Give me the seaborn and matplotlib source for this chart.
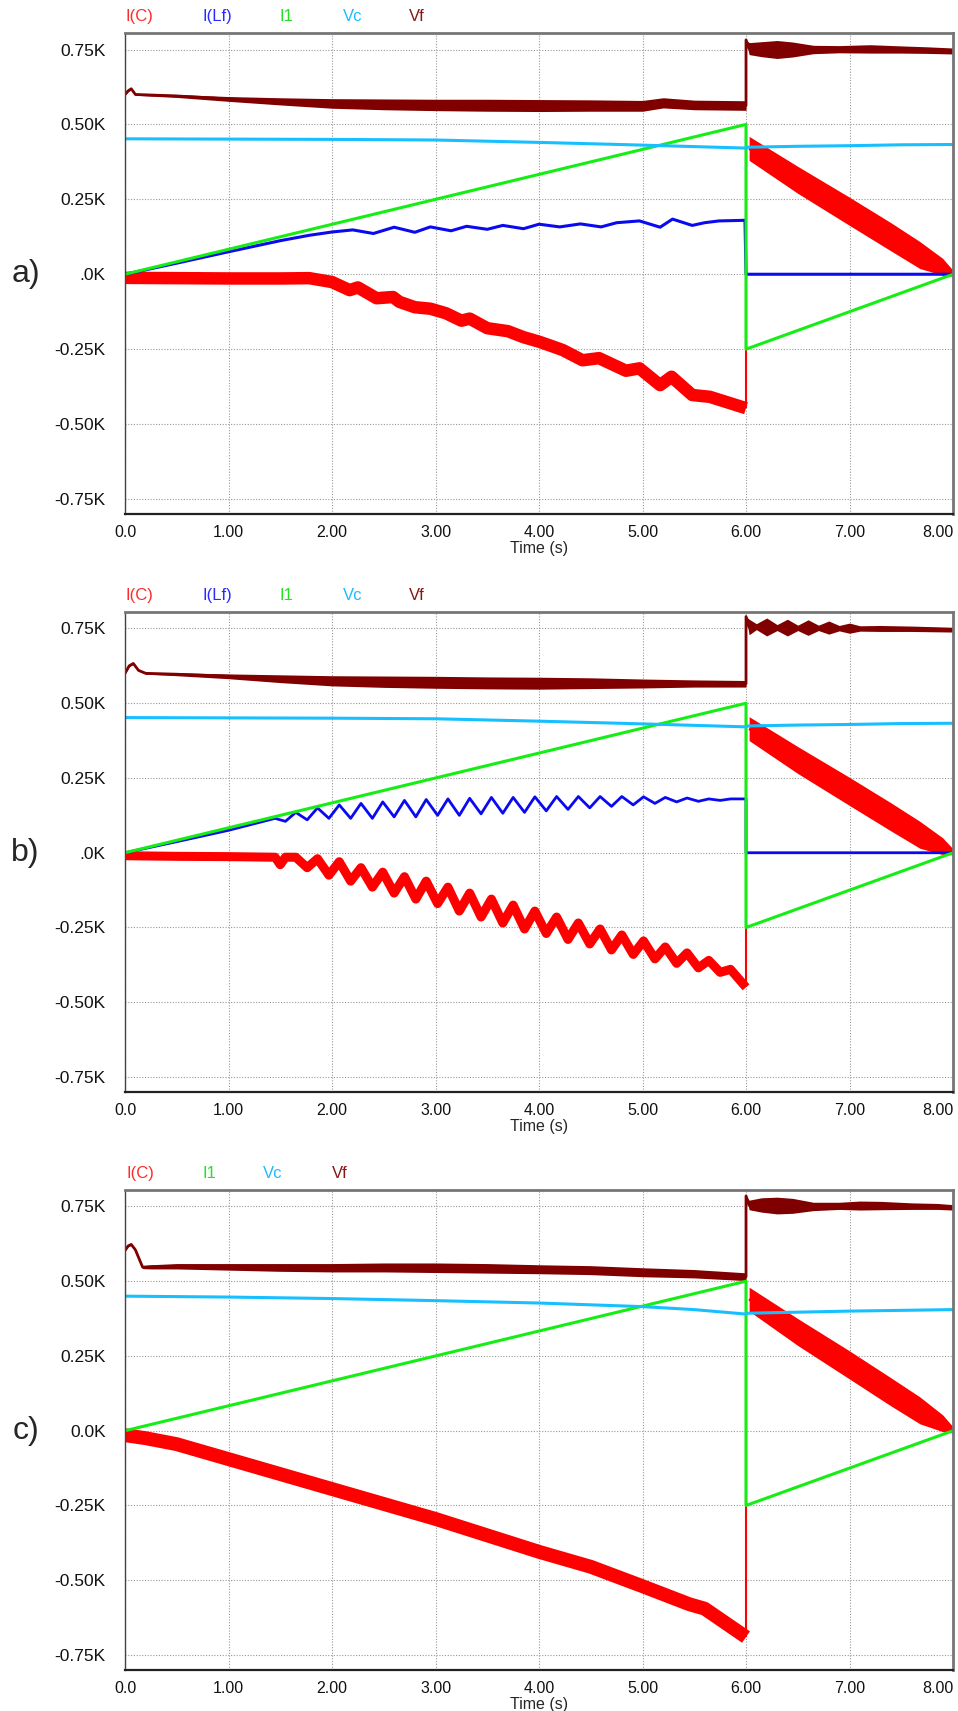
import numpy as np
import matplotlib
matplotlib.use("Agg")
import matplotlib.pyplot as plt
import matplotlib.transforms as mtransforms
import seaborn as sns

# ---- data (values in K) ----
# I1 source current, same in all three runs
i1_t = [0.0, 6.0, 6.0, 8.0]
i1_v = [0.0, 0.5, -0.25, 0.0]

# a) I(C) before the switch
a_ic_t = [0.0, 0.5, 1.0, 1.5, 1.78, 2.0, 2.17, 2.25, 2.43, 2.59, 2.65, 2.8, 2.95, 3.1, 3.25, 3.33,
          3.5, 3.7, 3.85, 4.0, 4.1, 4.23, 4.42, 4.58, 4.84, 4.97, 5.17, 5.28, 5.48, 5.65, 6.0]
a_ic_v = [-0.012, -0.013, -0.014, -0.014, -0.013, -0.026, -0.053, -0.044, -0.08, -0.076, -0.092,
          -0.11, -0.115, -0.13, -0.155, -0.148, -0.18, -0.19, -0.21, -0.225, -0.237, -0.253,
          -0.287, -0.28, -0.322, -0.314, -0.37, -0.342, -0.403, -0.409, -0.447]
# a) I(Lf)
a_lf_t = [0.0, 0.5, 1.0, 1.5, 1.78, 2.0, 2.2, 2.4, 2.6, 2.8, 2.95, 3.15, 3.3, 3.5, 3.65, 3.85, 4.0,
          4.2, 4.4, 4.6, 4.75, 4.97, 5.17, 5.29, 5.48, 5.6, 5.74, 5.99, 6.0, 8.0]
a_lf_v = [0.0, 0.037, 0.075, 0.112, 0.13, 0.141, 0.148, 0.136, 0.157, 0.14, 0.158, 0.145, 0.16,
          0.15, 0.163, 0.152, 0.167, 0.158, 0.168, 0.158, 0.172, 0.178, 0.157, 0.184, 0.163,
          0.172, 0.178, 0.18, 0.0, 0.0]
# a) Vc
a_vc_t = [0.0, 1.0, 2.0, 3.0, 4.0, 4.78, 5.3, 6.0, 6.02, 6.5, 7.0, 7.5, 8.0]
a_vc_v = [0.452, 0.451, 0.45, 0.448, 0.44, 0.433, 0.428, 0.421, 0.424, 0.427, 0.429, 0.432, 0.433]
# a) Vf centre and half band width
a_vf_t = [0.0, 0.03, 0.06, 0.1, 0.5, 1.0, 1.5, 2.0, 2.5, 3.0, 3.5, 4.0, 4.5, 5.0, 5.2, 5.5, 6.0,
          6.0, 6.03, 6.15, 6.3, 6.45, 6.65, 6.9, 7.2, 7.5, 7.75, 8.0]
a_vf_v = [0.600, 0.612, 0.619, 0.600, 0.595, 0.585, 0.577, 0.570, 0.567, 0.565, 0.564, 0.563,
          0.563, 0.562, 0.572, 0.565, 0.563, 0.782, 0.753, 0.751, 0.750, 0.750, 0.750, 0.751,
          0.752, 0.750, 0.748, 0.745]
a_vf_w = [0.003, 0.003, 0.003, 0.003, 0.005, 0.008, 0.012, 0.016, 0.018, 0.019, 0.02, 0.02,
          0.019, 0.018, 0.017, 0.016, 0.016, 0.0, 0.02, 0.025, 0.03, 0.025, 0.014, 0.012,
          0.014, 0.012, 0.011, 0.01]
# a) I(C) after the switch (band)
a_ica_t = [6.03, 6.5, 7.0, 7.4, 7.68, 7.9, 8.0]
a_ica_v = [0.42, 0.315, 0.21, 0.125, 0.064, 0.025, 0.003]
a_ica_w = [0.04, 0.045, 0.047, 0.047, 0.045, 0.028, 0.01]

# b) I(C)
b_ic_t = [0.0, 0.5, 1.0, 1.45, 1.5, 1.55, 1.65, 1.76, 1.86, 1.97, 2.07, 2.18, 2.28, 2.39, 2.49,
          2.6, 2.7, 2.81, 2.91, 3.02, 3.12, 3.23, 3.33, 3.44, 3.54, 3.65, 3.75, 3.86, 3.96, 4.07,
          4.17, 4.28, 4.38, 4.49, 4.59, 4.7, 4.8, 4.91, 5.01, 5.12, 5.22, 5.33, 5.43, 5.54, 5.64,
          5.75, 5.85, 5.95, 6.0]
b_ic_v = [-0.01, -0.012, -0.013, -0.015, -0.04, -0.015, -0.015, -0.05, -0.02, -0.075, -0.03,
          -0.095, -0.05, -0.115, -0.065, -0.135, -0.08, -0.155, -0.095, -0.17, -0.115, -0.195,
          -0.135, -0.215, -0.155, -0.235, -0.175, -0.255, -0.195, -0.27, -0.215, -0.29, -0.235,
          -0.305, -0.255, -0.325, -0.275, -0.34, -0.295, -0.355, -0.315, -0.37, -0.335, -0.385,
          -0.36, -0.4, -0.39, -0.43, -0.45]
# b) I(Lf)
b_lf_t = [0.0, 0.5, 1.0, 1.45, 1.55, 1.65, 1.76, 1.86, 1.97, 2.07, 2.18, 2.28, 2.39, 2.49, 2.6,
          2.7, 2.81, 2.91, 3.02, 3.12, 3.23, 3.33, 3.44, 3.54, 3.65, 3.75, 3.86, 3.96, 4.07, 4.17,
          4.28, 4.38, 4.49, 4.59, 4.7, 4.8, 4.91, 5.01, 5.12, 5.22, 5.33, 5.43, 5.54, 5.64, 5.75,
          5.85, 6.0, 6.0, 8.0]
b_lf_v = [0.0, 0.037, 0.075, 0.115, 0.105, 0.135, 0.11, 0.15, 0.115, 0.16, 0.115, 0.165, 0.115,
          0.17, 0.12, 0.175, 0.12, 0.178, 0.125, 0.18, 0.125, 0.182, 0.13, 0.185, 0.132, 0.185,
          0.135, 0.187, 0.14, 0.188, 0.145, 0.188, 0.15, 0.188, 0.155, 0.188, 0.16, 0.187, 0.165,
          0.185, 0.17, 0.183, 0.172, 0.18, 0.175, 0.18, 0.18, 0.0, 0.0]
# b) Vf
b_vf_t = [0.0, 0.04, 0.08, 0.13, 0.2, 0.5, 1.0, 1.5, 2.0, 2.5, 3.0, 3.5, 4.0, 4.5, 5.0, 5.5, 6.0,
          6.0, 6.03, 6.1, 6.2, 6.3, 6.4, 6.5, 6.6, 6.7, 6.8, 6.9, 7.0, 7.1, 7.3, 7.6, 8.0]
b_vf_v = [0.600, 0.625, 0.633, 0.610, 0.600, 0.597, 0.590, 0.582, 0.575, 0.572, 0.570, 0.568,
          0.567, 0.567, 0.566, 0.566, 0.565, 0.790, 0.755, 0.756, 0.755, 0.753, 0.753, 0.752,
          0.753, 0.752, 0.753, 0.751, 0.751, 0.750, 0.750, 0.749, 0.746]
b_vf_w = [0.003, 0.003, 0.003, 0.003, 0.003, 0.005, 0.008, 0.013, 0.017, 0.019, 0.02, 0.02,
          0.02, 0.018, 0.015, 0.012, 0.011, 0.0, 0.026, 0.01, 0.03, 0.01, 0.028, 0.009, 0.026,
          0.009, 0.022, 0.009, 0.017, 0.009, 0.01, 0.009, 0.008]
b_ica_v = [0.415, 0.31, 0.205, 0.12, 0.06, 0.022, 0.003]

# c) I(C)
c_ic_t = [0.0, 0.2, 0.5, 1.0, 1.5, 2.0, 2.5, 3.0, 3.5, 4.0, 4.5, 5.0, 5.3, 5.45, 5.6, 6.0]
c_ic_v = [-0.015, -0.025, -0.045, -0.095, -0.145, -0.195, -0.245, -0.295, -0.35, -0.405,
          -0.455, -0.52, -0.56, -0.58, -0.595, -0.69]
c_vc_t = [0.0, 1.0, 2.0, 3.0, 4.0, 5.0, 5.5, 6.0, 6.02, 7.0, 8.0]
c_vc_v = [0.45, 0.447, 0.442, 0.435, 0.427, 0.415, 0.405, 0.39, 0.393, 0.4, 0.405]
c_vf_t = [0.0, 0.03, 0.06, 0.1, 0.17, 0.25, 0.5, 1.0, 1.5, 2.0, 2.5, 3.0, 3.5, 4.0, 4.5, 5.0,
          5.5, 6.0, 6.0, 6.03, 6.15, 6.3, 6.45, 6.65, 6.9, 7.1, 7.3, 7.6, 7.85, 8.0]
c_vf_v = [0.603, 0.618, 0.623, 0.605, 0.547, 0.548, 0.550, 0.548, 0.546, 0.545, 0.546, 0.545,
          0.543, 0.540, 0.537, 0.530, 0.525, 0.515, 0.785, 0.755, 0.755, 0.753, 0.752, 0.750,
          0.752, 0.753, 0.753, 0.751, 0.750, 0.747]
c_vf_w = [0.003, 0.003, 0.003, 0.003, 0.005, 0.007, 0.009, 0.011, 0.013, 0.014, 0.015, 0.016,
          0.016, 0.015, 0.015, 0.015, 0.014, 0.013, 0.0, 0.016, 0.024, 0.028, 0.025, 0.014,
          0.012, 0.015, 0.014, 0.011, 0.01, 0.009]
c_ica_v = [0.44, 0.33, 0.22, 0.13, 0.068, 0.025, 0.003]

x_ticks = [0, 1, 2, 3, 4, 5, 6, 7, 8]
x_labels = ["0.0", "1.00", "2.00", "3.00", "4.00", "5.00", "6.00", "7.00", "8.00"]
y_ticks = [0.75, 0.5, 0.25, 0.0, -0.25, -0.5, -0.75]
y_labels_ab = ["0.75K", "0.50K", "0.25K", ".0K", "-0.25K", "-0.50K", "-0.75K"]
y_labels_c = ["0.75K", "0.50K", "0.25K", "0.0K", "-0.25K", "-0.50K", "-0.75K"]

names_ab = ["I(C)", "I(Lf)", "I1", "Vc", "Vf"]
names_c = ["I(C)", "I1", "Vc", "Vf"]

RED, BLUE, GREEN, CYAN, MAROON = "#ff0000", "#0a0af0", "#14ee14", "#18bfff", "#800000"
LEG = {"I(C)": "#ff2a2a", "I(Lf)": "#2a2aff", "I1": "#22e022", "Vc": "#20bbff", "Vf": "#8a1515"}

sns.set_style("white")
plt.rcParams["font.family"] = ["Liberation Sans", "DejaVu Sans"]

fig = plt.figure(figsize=(9.58, 17.11), dpi=100)
ax_a = fig.add_axes([0.1305, 0.6996, 0.8643, 0.2811])
ax_b = fig.add_axes([0.1305, 0.3618, 0.8643, 0.2805])
ax_c = fig.add_axes([0.1305, 0.0240, 0.8643, 0.2805])


def line(ax, t, v, color, lw):
    sns.lineplot(x=t, y=v, ax=ax, color=color, linewidth=lw, estimator=None, sort=False,
                 legend=False, solid_capstyle="butt", solid_joinstyle="round")


def band(ax, t, v, w, color):
    v = np.array(v)
    w = np.array(w)
    ax.fill_between(t, v - w, v + w, color=color, lw=0)
    line(ax, t, v, color, 2.0)


def frame(ax, ylabels, names, xpos, tag):
    ax.set_xlim(0, 8.0)
    ax.set_ylim(-0.80, 0.805)
    ax.set_xticks(x_ticks)
    ax.set_xticklabels(x_labels)
    ax.get_xticklabels()[-1].set_ha("right")
    ax.set_yticks(y_ticks)
    ax.set_yticklabels(ylabels)
    ax.tick_params(length=0, colors="#111111")
    ax.tick_params(axis="y", pad=14, labelsize=12.5)
    ax.tick_params(axis="x", pad=8, labelsize=11.5)
    ax.grid(True, color="#9a9a9a", linestyle=(0, (1, 1.5)), linewidth=0.8)
    ax.set_axisbelow(True)
    ax.set_xlabel("Time (s)", fontsize=11.5, labelpad=1,
                  family=["Liberation Sans Narrow", "Liberation Sans"])
    ax.set_ylabel("")
    for s in ("top", "right"):
        ax.spines[s].set_color("#767676")
        ax.spines[s].set_linewidth(2)
    ax.spines["bottom"].set_color("#222222")
    ax.spines["bottom"].set_linewidth(1.6)
    ax.spines["left"].set_color("#444444")
    ax.spines["left"].set_linewidth(1.0)
    ax.spines["left"].set_linestyle((0, (1, 1)))
    for name, x in zip(names, xpos):
        ax.text(x, 1.034, name, transform=ax.transAxes, color=LEG[name], fontsize=12,
                ha="left", va="center")
    tr = mtransforms.blended_transform_factory(ax.transAxes, ax.transData)
    ax.text(-0.12, 0.0, tag, transform=tr, fontsize=23, ha="center", va="center")


# ---- a) ----
line(ax_a, a_ic_t, a_ic_v, RED, 9)
line(ax_a, [6.0, 6.0], [a_ic_v[-1], a_ica_v[0] + a_ica_w[0]], RED, 1.5)
band(ax_a, a_ica_t, a_ica_v, a_ica_w, RED)
line(ax_a, a_lf_t, a_lf_v, BLUE, 2.2)
line(ax_a, i1_t, i1_v, GREEN, 2.2)
line(ax_a, a_vc_t, a_vc_v, CYAN, 2.2)
band(ax_a, a_vf_t, a_vf_v, a_vf_w, MAROON)
frame(ax_a, y_labels_ab, names_ab, [0.001, 0.094, 0.187, 0.263, 0.343], "a)")

# ---- b) ----
line(ax_b, b_ic_t, b_ic_v, RED, 6.5)
line(ax_b, [6.0, 6.0], [b_ic_v[-1], b_ica_v[0] + a_ica_w[0]], RED, 1.5)
band(ax_b, a_ica_t, b_ica_v, a_ica_w, RED)
line(ax_b, b_lf_t, b_lf_v, BLUE, 2.0)
line(ax_b, i1_t, i1_v, GREEN, 2.2)
line(ax_b, a_vc_t, a_vc_v, CYAN, 2.2)
band(ax_b, b_vf_t, b_vf_v, b_vf_w, MAROON)
frame(ax_b, y_labels_ab, names_ab, [0.001, 0.094, 0.187, 0.263, 0.343], "b)")

# ---- c) ----
line(ax_c, c_ic_t, c_ic_v, RED, 10)
line(ax_c, [6.0, 6.0], [c_ic_v[-1], c_ica_v[0] + a_ica_w[0]], RED, 1.5)
band(ax_c, a_ica_t, c_ica_v, a_ica_w, RED)
line(ax_c, i1_t, i1_v, GREEN, 2.2)
line(ax_c, c_vc_t, c_vc_v, CYAN, 2.2)
band(ax_c, c_vf_t, c_vf_v, c_vf_w, MAROON)
frame(ax_c, y_labels_c, names_c, [0.002, 0.093, 0.167, 0.25], "c)")

fig.savefig("out.png", dpi=100)
